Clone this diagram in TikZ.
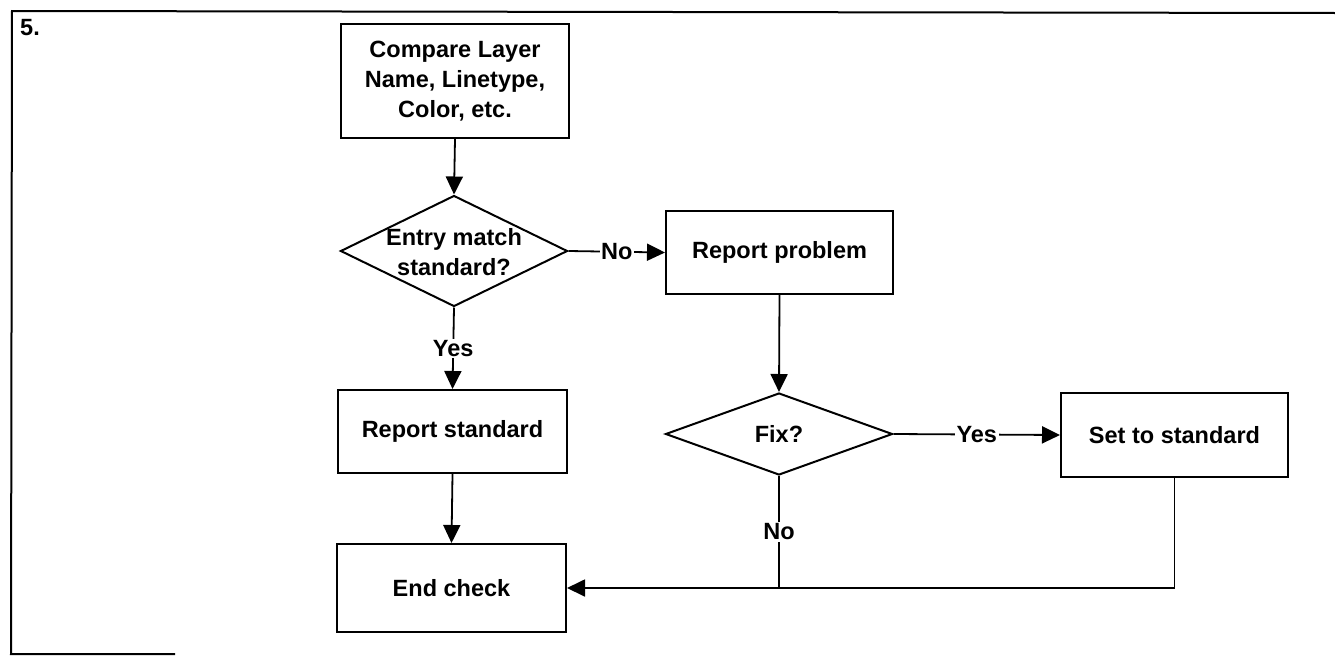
\documentclass[tikz,border=0pt]{standalone}
\usepackage{fontspec}
\setmainfont{Liberation Sans}
\usetikzlibrary{shapes.geometric,arrows.meta}
\begin{document}
\begin{tikzpicture}[x=1pt,y=-1pt,
  every node/.style={font=\fontsize{23.5}{30}\selectfont\bfseries},
  box/.style={draw,line width=2pt,rectangle,inner sep=0pt,align=center},
  dia/.style={draw,line width=2pt,diamond,inner sep=0pt},
  lbl/.style={fill=white,inner sep=1.5pt},
  flow/.style={line width=1.8pt,-{Triangle[length=18pt,width=17pt]}},
  plain/.style={line width=1.8pt},
  frame/.style={line width=2pt}]
\useasboundingbox (0,0) rectangle (1335,656);
% frame
\coordinate (ftl) at (12,11);
\coordinate (ftr) at (1335,13);
\coordinate (fbl) at (11,654);
\coordinate (fbr) at (175,654);
\draw[frame] (ftr) -- (ftl) -- (fbl) -- (fbr);
\node[anchor=north west,inner sep=0pt] (num) at (20,19) {5.};
% nodes
\node[box,minimum width=228pt,minimum height=114pt] (cmp) at (455,81)
  {Compare Layer\\Name, Linetype,\\Color, etc.};
\node[dia,minimum width=227pt,minimum height=111pt] (d1) at (454,251) {};
\node[align=center,inner sep=0pt] (d1t) at (454,252) {Entry match\\standard?};
\node[box,minimum width=227pt,minimum height=83pt] (rp) at (779.5,252.5) {Report problem};
\node[dia,minimum width=227pt,minimum height=82pt] (d2) at (779,434) {};
\node[inner sep=0pt] (d2t) at (d2) {Fix?};
\node[box,minimum width=229pt,minimum height=83pt] (rs) at (452.5,431.5) {Report standard};
\node[box,minimum width=229pt,minimum height=88pt] (ec) at (451.5,588) {End check};
\node[box,minimum width=227pt,minimum height=84pt] (ss) at (1174.5,435) {Set to standard};
% connectors
\draw[flow] (cmp.south) -- (d1.north);
\draw[flow] (d1.east) -- node[lbl] (no1) {No} (rp.west);
\draw[flow] (d1.south) -- node[lbl] (yes1) {Yes} (rs.north);
\draw[flow] (rp.south) -- (d2.north);
\draw[flow] (d2.east) -- node[lbl] (yes2) {Yes} (ss.west);
\draw[flow] (rs.south) -- (ec.north);
\draw[plain] (d2.south) -- node[lbl] (no2) {No} (d2.south |- ec.east);
\draw[flow] (ss.south) |- (ec.east);
\end{tikzpicture}
\end{document}
